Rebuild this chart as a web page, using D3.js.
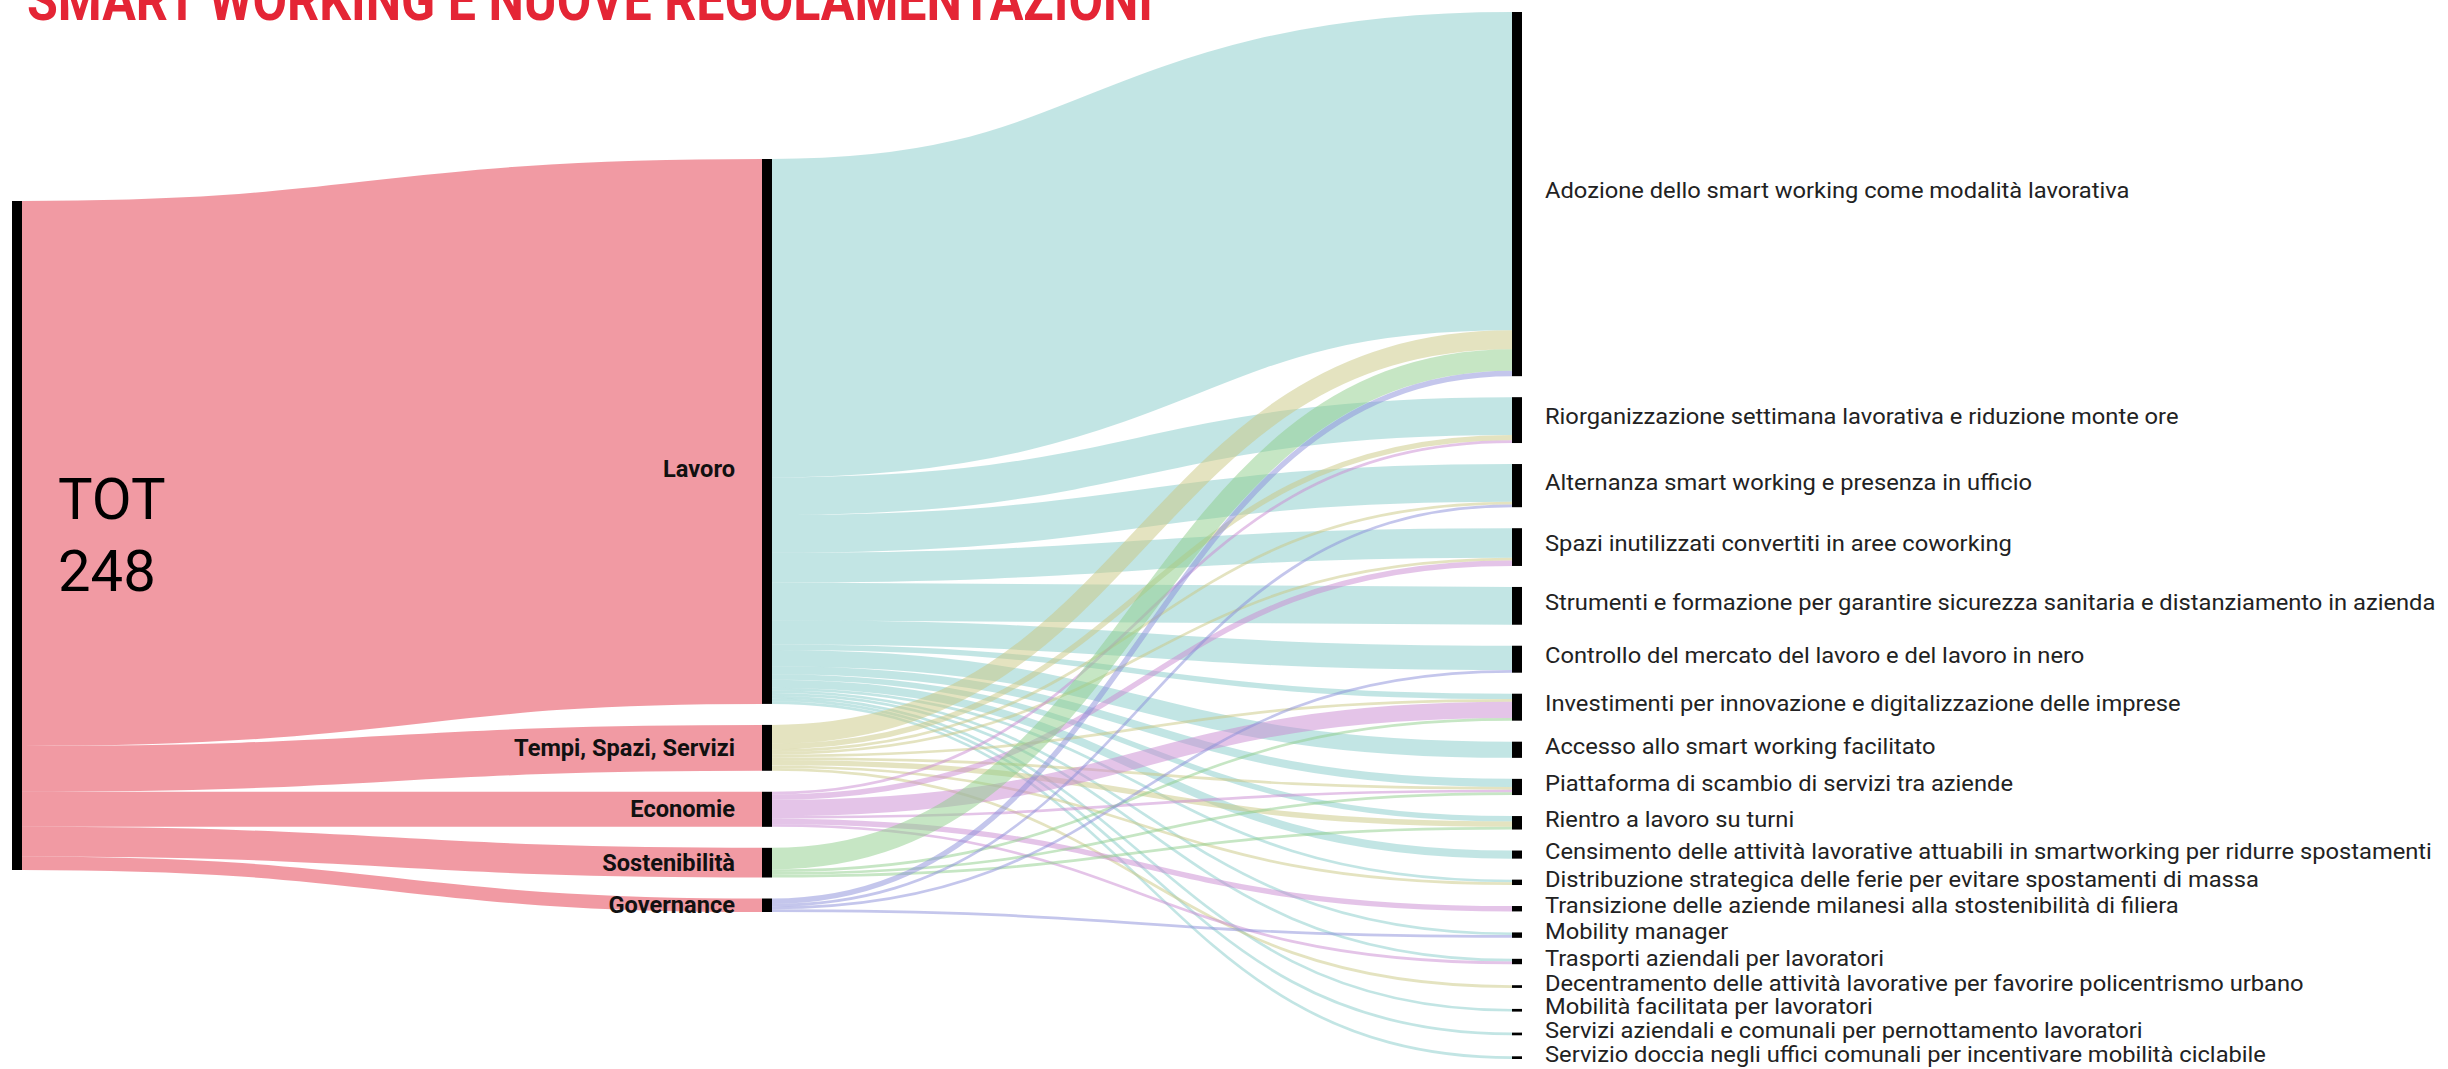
<!DOCTYPE html>
<html>
<head>
<meta charset="utf-8">
<script src="https://cdn.jsdelivr.net/npm/d3@7"></script>
<style>
  body { margin: 0; background: #fff; }
  svg { display: block; }
</style>
</head>
<body>
<svg id="chart"></svg>
<script>
const width = 2448;
const height = 1069;

const title = 'SMART WORKING E NUOVE REGOLAMENTAZIONI';
const rootLines = ['TOT', '248'];

const categories = ['Lavoro', 'Tempi, Spazi, Servizi', 'Economie', 'Sostenibilità', 'Governance'];
const categoryColors = ['#85cbc9', '#c9c781', '#c989d1', '#8dcd89', '#898dd9'];
const rootColor = '#e33547';

const proposals = [
  'Adozione dello smart working come modalità lavorativa',
  'Riorganizzazione settimana lavorativa e riduzione monte ore',
  'Alternanza smart working e presenza in ufficio',
  'Spazi inutilizzati convertiti in aree coworking',
  'Strumenti e formazione per garantire sicurezza sanitaria e distanziamento in azienda',
  'Controllo del mercato del lavoro e del lavoro in nero',
  'Investimenti per innovazione e digitalizzazione delle imprese',
  'Accesso allo smart working facilitato',
  'Piattaforma di scambio di servizi tra aziende',
  'Rientro a lavoro su turni',
  'Censimento delle attività lavorative attuabili in smartworking per ridurre spostamenti',
  'Distribuzione strategica delle ferie per evitare spostamenti di massa',
  'Transizione delle aziende milanesi alla stostenibilità di filiera',
  'Mobility manager',
  'Trasporti aziendali per lavoratori',
  'Decentramento delle attività lavorative per favorire policentrismo urbano',
  'Mobilità facilitata per lavoratori',
  'Servizi aziendali e comunali per pernottamento lavoratori',
  'Servizio doccia negli uffici comunali per incentivare mobilità ciclabile'
];

// proposals per category, same order as `proposals`
const lavoro        = [118, 14, 14, 11, 14, 9, 2, 6, 3, 2, 3, 1, 0, 1, 1, 0, 1, 1, 1];
const tempi         = [7, 2, 1, 1, 0, 0, 1, 0, 1, 2, 0, 1, 0, 0, 0, 1, 0, 0, 0];
const economie      = [0, 1, 0, 2, 0, 0, 6, 0, 1, 0, 0, 0, 2, 0, 1, 0, 0, 0, 0];
const sostenibilita = [8, 0, 0, 0, 0, 0, 1, 0, 1, 1, 0, 0, 0, 0, 0, 0, 0, 0, 0];
const governance    = [2, 0, 1, 0, 0, 1, 0, 0, 0, 0, 0, 0, 0, 1, 0, 0, 0, 0, 0];
const flows = [lavoro, tempi, economie, sostenibilita, governance];

const NODE_W = 10;
const PAD = 21;
const TOP = 12;
const BOTTOM = 1059;

const svg = d3.select('#chart')
  .attr('width', width)
  .attr('height', height)
;

// layout (small hand-made sankey)
const columnX = d3.scaleLinear().domain([0, 2]).range([12, 1512]);

const catNodes = categories.map((name, i) => ({ name, col: 1, value: d3.sum(flows[i]) }));
const propNodes = proposals.map((name, j) => ({ name, col: 2, value: d3.sum(flows, f => f[j]) }));
const root = { name: 'TOT', col: 0, value: d3.sum(catNodes, d => d.value) };
const columns = [[root], catNodes, propNodes];

const ky = d3.min(columns, col => (BOTTOM - TOP - (col.length - 1) * PAD) / d3.sum(col, d => d.value));
const size = d3.scaleLinear().domain([0, root.value]).range([0, root.value * ky]);

columns.forEach((col, c) => {
  const total = d3.sum(col, d => size(d.value)) + (col.length - 1) * PAD;
  let y = (TOP + BOTTOM) / 2 - total / 2;
  col.forEach(n => {
    n.x0 = columnX(c);
    n.x1 = n.x0 + NODE_W;
    n.y0 = y;
    n.y1 = y + size(n.value);
    n.sy = n.ty = n.y0;
    y = n.y1 + PAD;
  });
});

const links = [];
catNodes.forEach(c => links.push({ source: root, target: c, value: c.value, color: rootColor }));
flows.forEach((f, i) => f.forEach((v, j) => {
  if (v > 0) links.push({ source: catNodes[i], target: propNodes[j], value: v, color: categoryColors[i] });
}));
links.forEach(l => {
  l.width = size(l.value);
  l.ys = l.source.sy + l.width / 2;
  l.source.sy += l.width;
  l.yt = l.target.ty + l.width / 2;
  l.target.ty += l.width;
});

const linkPath = d3.linkHorizontal()
  .source(d => [d.source.x1, d.ys])
  .target(d => [d.target.x0, d.yt])
;

svg.append('g')
  .attr('fill', 'none')
  .selectAll('path')
  .data(links)
  .join('path')
  .attr('d', linkPath)
  .attr('stroke', d => d.color)
  .attr('stroke-opacity', 0.5)
  .attr('stroke-width', d => d.width)
;

svg.append('g')
  .selectAll('rect')
  .data([root, ...catNodes, ...propNodes])
  .join('rect')
  .attr('x', d => d.x0)
  .attr('y', d => d.y0)
  .attr('width', NODE_W)
  .attr('height', d => Math.max(1, d.y1 - d.y0))
  .attr('fill', '#000')
;

// no condensed face installed: squeeze a label group horizontally
// so that the reference label gets the wanted width
function condense(sel, refIndex, targetWidth) {
  const w = sel.nodes()[refIndex].getComputedTextLength();
  sel.attr('transform', `scale(${targetWidth / w},1)`);
}

// category labels
const catLabels = svg.append('g')
  .selectAll('g')
  .data(catNodes)
  .join('g')
  .attr('transform', d => `translate(${d.x0 - 27},${(d.y0 + d.y1) / 2 + (d.name === 'Lavoro' ? 37 : 0)})`)
  .append('text')
  .attr('text-anchor', 'end')
  .attr('dominant-baseline', 'central')
  .attr('font-family', 'Roboto, "Open Sans", sans-serif')
  .attr('font-weight', 'bold')
  .attr('font-size', 24)
  .attr('fill', '#111')
  .text(d => d.name)
;
condense(catLabels, 1, 221);

// proposal labels
const propLabels = svg.append('g')
  .selectAll('g')
  .data(propNodes)
  .join('g')
  .attr('transform', d => `translate(${d.x1 + 23},${(d.y0 + d.y1) / 2 - 3})`)
  .append('text')
  .attr('dominant-baseline', 'central')
  .attr('font-family', 'Roboto, "Open Sans", sans-serif')
  .attr('font-size', 22)
  .attr('fill', '#222')
  .text(d => d.name)
;
condense(propLabels, 4, 891);

// total label, one text per line
const rootCy = (root.y0 + root.y1) / 2;
svg.append('g')
  .selectAll('text')
  .data(rootLines)
  .join('text')
  .attr('x', 58)
  .attr('y', (d, i) => rootCy - 17 + i * 72)
  .attr('font-family', 'Roboto, "Open Sans", sans-serif')
  .attr('font-size', 58)
  .attr('fill', '#000')
  .text(d => d)
;

svg.append('text')
  .attr('x', 27)
  .attr('y', 20)
  .attr('font-family', 'Roboto, "Open Sans", sans-serif')
  .attr('font-weight', 'bold')
  .attr('font-size', 58)
  .attr('fill', '#e42535')
  .attr('textLength', 1126)
  .attr('lengthAdjust', 'spacingAndGlyphs')
  .text(title)
;
</script>
</body>
</html>
